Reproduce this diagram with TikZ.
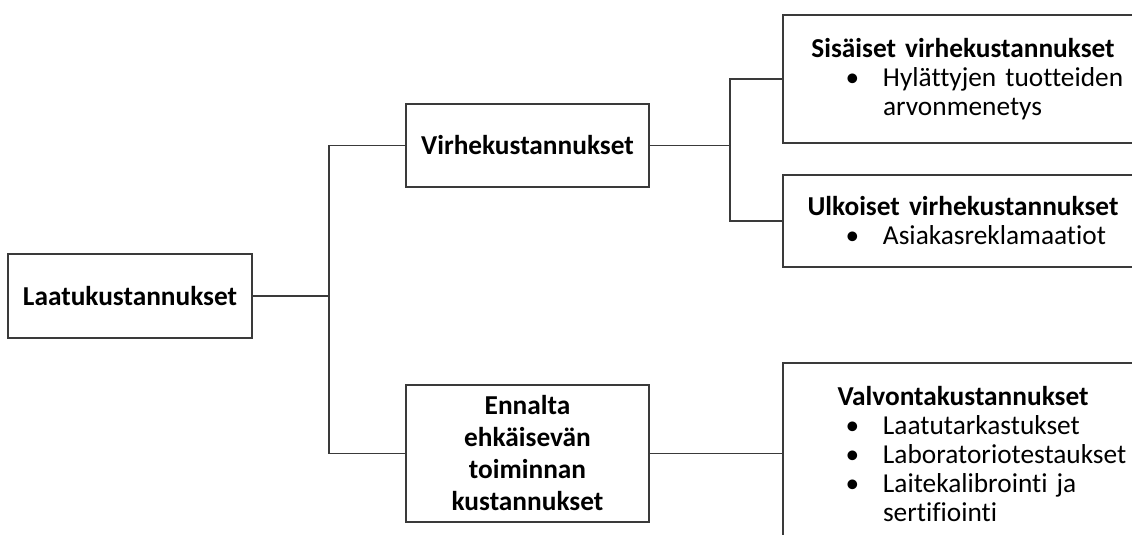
\documentclass[tikz,border=0pt]{standalone}
\usepackage{fontspec}
\setmainfont{Carlito}[Ligatures=NoCommon]
\usepackage{tikz}
\definecolor{viiva}{HTML}{3A3A3A}
\newcommand{\otsikko}[1]{{\noindent\centering\bfseries #1\par}}
\newcommand{\kohta}[1]{\par\noindent\hspace*{47pt}\makebox[28pt][l]{\textbullet}\parbox[t]{200pt}{\raggedright #1}}

\begin{document}
\begin{tikzpicture}[x=0.75pt,y=-0.75pt,
    paa/.style={draw=viiva,line width=1pt,inner sep=0pt,align=center,
      font=\fontsize{20.5}{24}\selectfont\bfseries},
    ala/.style={draw=viiva,line width=1pt,inner sep=0pt,text width=270pt,
      font=\fontsize{20.5}{21.75}\selectfont},
    yhteys/.style={draw=viiva,line width=1pt}]
    \useasboundingbox (0,0) rectangle (1132,535);
    \clip (0,0) rectangle (1132,535);
    \node[paa,minimum width=183pt,minimum height=63pt] (laatu) at (130,296) {Laatukustannukset};
    \node[paa,minimum width=182.25pt,minimum height=62.25pt] (virhe) at (527.5,145.5) {Virhekustannukset};
    \node[paa,minimum width=182.25pt,minimum height=102.75pt] (ennalta) at (527.5,453.5)
      {Ennalta\\ ehkäisevän\\ toiminnan\\ kustannukset};
    \node[ala,minimum height=96pt] (sisaiset) at (963,79)
      {\otsikko{Sisäiset virhekustannukset}\kohta{Hylättyjen tuotteiden\\arvonmenetys}};
    \node[ala,minimum height=69pt] (ulkoiset) at (963,221)
      {\otsikko{Ulkoiset virhekustannukset}\kohta{Asiakasreklamaatiot}};
    \node[ala,minimum height=136.5pt] (valvonta) at (963,454)
      {\otsikko{Valvontakustannukset}\kohta{Laatutarkastukset}\kohta{Laboratoriotestaukset}%
       \kohta{Laitekalibrointi ja\\sertifiointi}};
    \coordinate (h1) at (329,0);
    \coordinate (h2) at (730,0);

    \draw[yhteys] (laatu.east) -- (h1 |- laatu.east);
    \draw[yhteys] (virhe.west) -| (h1 |- ennalta.west) -- (ennalta.west);
    \draw[yhteys] (virhe.east) -- (h2 |- virhe.east);
    \draw[yhteys] (sisaiset.west) -| (h2 |- ulkoiset.west) -- (ulkoiset.west);
    \draw[yhteys] (ennalta.east) -- (ennalta.east -| valvonta.west);
\end{tikzpicture}
\end{document}
